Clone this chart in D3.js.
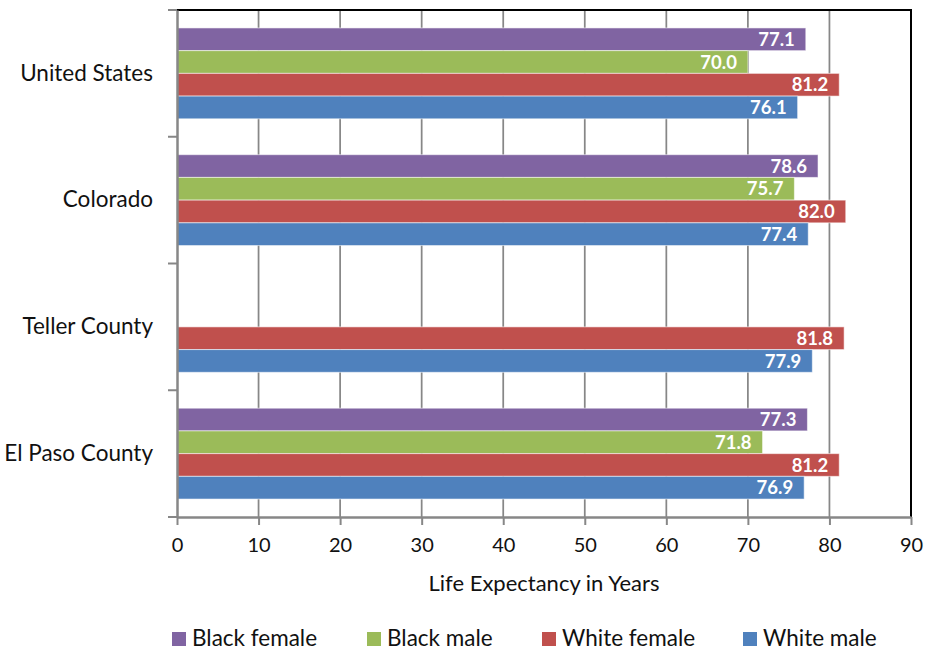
<!DOCTYPE html>
<html>
<head>
<meta charset="utf-8">
<script src="https://cdn.jsdelivr.net/npm/d3@7"></script>
<style>
  body { margin: 0; background: #fff; }
  text { font-family: Lato, "Open Sans", sans-serif; fill: #111; }
</style>
</head>
<body>
<div id="chart"></div>
<script>
const width = 927;
const height = 651;

// datos
const regiones = ["United States", "Colorado", "Teller County", "El Paso County"];
const series = ["Black female", "Black male", "White female", "White male"];
const colores = ["#8064A2", "#9BBB59", "#C0504D", "#4F81BD"];
const blackFemale = [77.1, 78.6, null, 77.3];
const blackMale = [70.0, 75.7, null, 71.8];
const whiteFemale = [81.2, 82.0, 81.8, 81.2];
const whiteMale = [76.1, 77.4, 77.9, 76.9];
const ticksX = [0, 10, 20, 30, 40, 50, 60, 70, 80, 90];
const tituloEje = "Life Expectancy in Years";

const valores = [blackFemale, blackMale, whiteFemale, whiteMale];

const margin = {top: 10, right: 16, bottom: 134, left: 177};

const svg = d3.select("#chart")
  .append("svg")
  .attr("width", width)
  .attr("height", height);

const x = d3.scaleLinear().domain([0, 90]).range([margin.left, width - margin.right]);
const y0 = d3.scaleBand().domain(regiones).range([margin.top, height - margin.bottom]);
const y1 = d3.scaleBand().domain(series).range([0, y0.bandwidth()]).paddingOuter(0.79);
const color = d3.scaleOrdinal().domain(series).range(colores);

// rejilla
svg.append("g")
  .selectAll("line")
  .data(ticksX.slice(1))
  .join("line")
  .attr("x1", d => x(d)).attr("x2", d => x(d))
  .attr("y1", margin.top).attr("y2", height - margin.bottom)
  .attr("stroke", "#878787")
  .attr("stroke-width", 1.75);

// barras
const datos = [];
regiones.forEach((r, i) => {
  series.forEach((s, j) => {
    if (valores[j][i] != null) datos.push({region: r, serie: s, valor: valores[j][i]});
  });
});

const barras = svg.append("g");
barras.selectAll("rect")
  .data(datos)
  .join("rect")
  .attr("x", x(0))
  .attr("y", d => y0(d.region) + y1(d.serie))
  .attr("width", d => x(d.valor) - x(0))
  .attr("height", y1.bandwidth())
  .attr("fill", d => color(d.serie))
  .attr("stroke", "rgba(255,255,255,0.55)")
  .attr("stroke-width", 1);

barras.selectAll("text")
  .data(datos)
  .join("text")
  .attr("x", d => x(d.valor) - 11)
  .attr("y", d => y0(d.region) + y1(d.serie) + y1.bandwidth() / 2)
  .attr("dy", "0.36em")
  .attr("text-anchor", "end")
  .style("fill", "#fff")
  .style("font-weight", "bold")
  .style("font-size", "18.5px")
  .text(d => d.valor.toFixed(1));

// borde superior y derecho
svg.append("path")
  .attr("d", `M${x(0)},${margin.top}H${x(90)}V${height - margin.bottom}`)
  .attr("fill", "none")
  .attr("stroke", "#000")
  .attr("stroke-width", 2);

// eje x
const ejeX = svg.append("g")
  .attr("transform", `translate(0, ${height - margin.bottom})`)
  .call(d3.axisBottom(x).tickValues(ticksX).tickSize(8).tickPadding(13).tickSizeOuter(0));
ejeX.select(".domain").attr("stroke", "#878787").attr("stroke-width", 2.5);
ejeX.selectAll(".tick line").attr("stroke", "#878787").attr("stroke-width", 2);
ejeX.selectAll(".tick text")
  .style("font-size", "20px")
  .style("font-family", "Lato, sans-serif")
  .attr("fill", "#111");

// eje y
const ejeY = svg.append("g")
  .attr("transform", `translate(${x(0)}, 0)`)
  .call(d3.axisLeft(y0).tickSize(0).tickPadding(24));
ejeY.select(".domain").attr("stroke", "#878787").attr("stroke-width", 2.5);
ejeY.selectAll(".tick text")
  .style("font-size", "22.5px")
  .style("font-family", "Lato, sans-serif")
  .attr("fill", "#111");

// marcas entre categorias
svg.append("g")
  .selectAll("line")
  .data(regiones.map(r => y0(r)).concat([y0.range()[1]]))
  .join("line")
  .attr("x1", x(0) - 9).attr("x2", x(0))
  .attr("y1", d => d).attr("y2", d => d)
  .attr("stroke", "#878787")
  .attr("stroke-width", 2);

// titulo del eje
svg.append("text")
  .attr("x", (x(0) + x(90)) / 2)
  .attr("y", 591)
  .attr("text-anchor", "middle")
  .style("font-size", "22px")
  .text(tituloEje);

// leyenda
const posLeyenda = [172, 367, 542, 743];
const leyenda = svg.append("g");
const items = leyenda.selectAll("g")
  .data(series)
  .join("g")
  .attr("transform", (d, i) => `translate(${posLeyenda[i]}, 632)`);
items.append("rect")
  .attr("width", 14).attr("height", 14)
  .attr("fill", d => color(d));
items.append("text")
  .attr("x", 20)
  .attr("y", 14)
  .style("font-size", "22.5px")
  .text(d => d);
</script>
</body>
</html>
